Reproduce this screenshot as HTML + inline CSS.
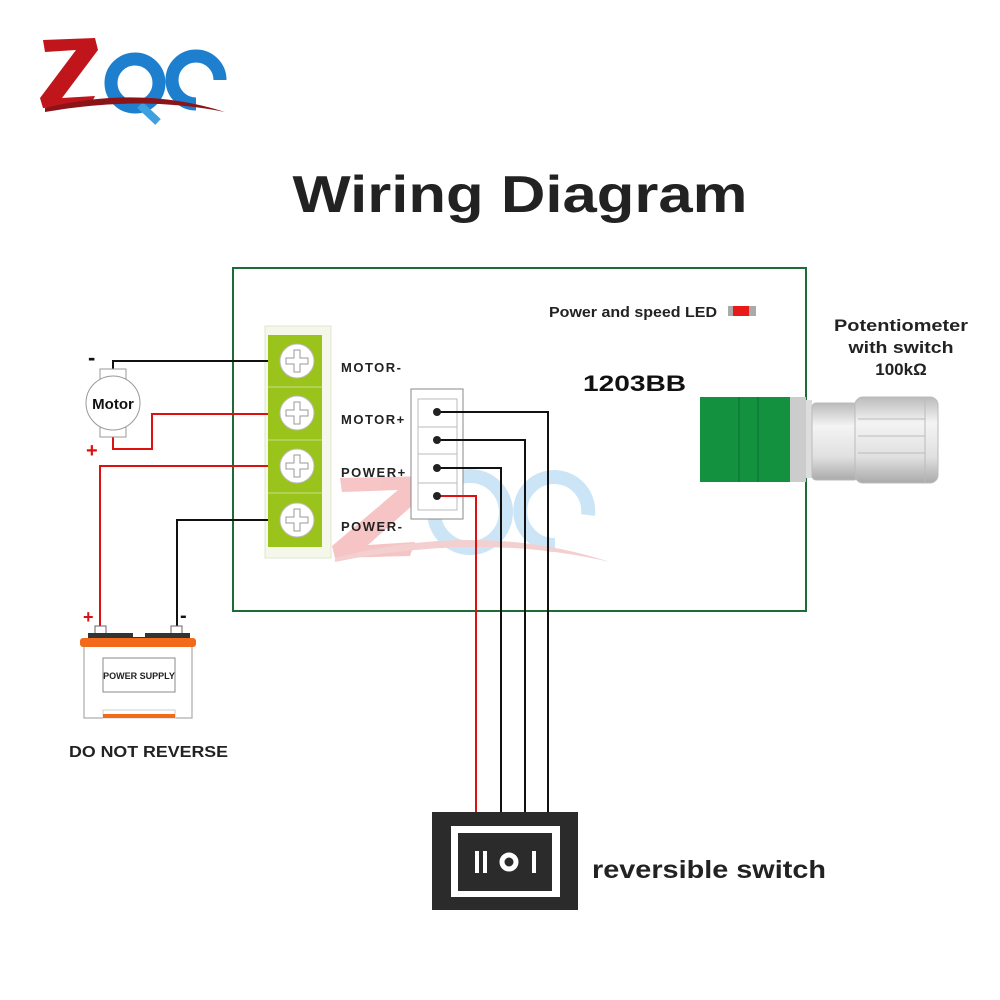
<!DOCTYPE html>
<html><head><meta charset="utf-8"><style>html,body{margin:0;padding:0;background:#fff}svg{display:block}text{font-family:"Liberation Sans","DejaVu Sans",sans-serif}</style></head>
<body>
<svg width="1000" height="1000" viewBox="0 0 1000 1000" xmlns="http://www.w3.org/2000/svg">
<rect width="1000" height="1000" fill="#fff"/>
<!-- Logo -->
<g>
 <path d="M43 40 L95 38 L98 50 L62 98 L95 96 L90 106 L43 108 L40 98 L76 50 L45 52 Z" fill="#c0161b"/>
 <circle cx="135" cy="83" r="24" fill="none" stroke="#1f7fcf" stroke-width="13"/>
 <path d="M140 105 L158 122" stroke="#3fa0e0" stroke-width="8"/>
 <path d="M220 80 A24 24 0 1 0 196 104" fill="none" stroke="#1f7fcf" stroke-width="13"/>
 <path d="M45 108 Q140 85 225 112 Q140 95 45 112 Z" fill="#8a1418"/>
</g>
<!-- Title -->
<text x="520" y="212" font-size="52" font-weight="bold" fill="#222" text-anchor="middle" textLength="455" lengthAdjust="spacingAndGlyphs">Wiring Diagram</text>
<!-- watermark -->
<g opacity="0.35">
 <path d="M340 478 L430 476 L432 488 L368 545 L415 542 L410 556 L335 558 L332 546 L398 490 L342 492 Z" fill="#e85a5a"/>
 <circle cx="470" cy="512" r="36" fill="none" stroke="#6fb6e8" stroke-width="14"/>
 <path d="M588 515 A34 34 0 1 0 555 545" fill="none" stroke="#6fb6e8" stroke-width="14"/>
 <path d="M335 558 Q480 520 610 562 Q480 532 335 562 Z" fill="#d77"/>
</g>
<!-- Main box -->
<rect x="233" y="268" width="573" height="343" fill="none" stroke="#1f6b35" stroke-width="2"/>
<text x="549" y="317" font-size="15" font-weight="bold" fill="#222" textLength="168" lengthAdjust="spacingAndGlyphs">Power and speed LED</text>
<rect x="728" y="306" width="28" height="10" fill="#aaa"/><rect x="733" y="306" width="16" height="10" fill="#e81919"/>
<text x="583" y="391" font-size="22" font-weight="bold" fill="#111" textLength="103" lengthAdjust="spacingAndGlyphs">1203BB</text>
<!-- terminal block -->
<rect x="265" y="326" width="66" height="232" fill="#f4f7ea" stroke="#dfe6cc"/>
<rect x="268" y="335" width="54" height="212" fill="#9ac31c"/>
<g stroke="#c9dd88" stroke-width="1"><line x1="268" y1="387" x2="322" y2="387"/><line x1="268" y1="440" x2="322" y2="440"/><line x1="268" y1="493" x2="322" y2="493"/></g>
<g fill="#fff" stroke="#bbb">
 <circle cx="297" cy="361" r="17"/><circle cx="297" cy="413" r="17"/><circle cx="297" cy="466" r="17"/><circle cx="297" cy="520" r="17"/>
</g>
<g fill="none" stroke="#999" stroke-width="1">
 <path d="M294 350h6v8h8v6h-8v8h-6v-8h-8v-6h8z"/>
 <path d="M294 402h6v8h8v6h-8v8h-6v-8h-8v-6h8z"/>
 <path d="M294 455h6v8h8v6h-8v8h-6v-8h-8v-6h8z"/>
 <path d="M294 509h6v8h8v6h-8v8h-6v-8h-8v-6h8z"/>
</g>
<g font-size="13" font-weight="bold" fill="#222" letter-spacing="1.5">
 <text x="341" y="372">MOTOR-</text><text x="341" y="424">MOTOR+</text><text x="341" y="477">POWER+</text><text x="341" y="531">POWER-</text>
</g>
<!-- connector -->
<rect x="411" y="389" width="52" height="130" fill="#fff" stroke="#888"/>
<rect x="418" y="399" width="39" height="111" fill="none" stroke="#bbb"/>
<g stroke="#bbb"><line x1="418" y1="427" x2="457" y2="427"/><line x1="418" y1="454" x2="457" y2="454"/><line x1="418" y1="483" x2="457" y2="483"/></g>
<!-- wires to switch -->
<g fill="none" stroke-width="2">
 <path d="M437 412 H548 V812" stroke="#111"/>
 <path d="M437 440 H525 V812" stroke="#111"/>
 <path d="M437 468 H501 V812" stroke="#111"/>
 <path d="M437 496 H476 V812" stroke="#d11"/>
</g>
<g fill="#222"><circle cx="437" cy="412" r="4"/><circle cx="437" cy="440" r="4"/><circle cx="437" cy="468" r="4"/><circle cx="437" cy="496" r="4"/></g>
<!-- motor wires -->
<g fill="none" stroke-width="2">
 <path d="M113 372 V361 H268" stroke="#111"/>
 <path d="M113 434 V449 H152 V414 H268" stroke="#d11"/>
 <path d="M268 466 H100 V628" stroke="#d11"/>
 <path d="M268 520 H177 V628" stroke="#111"/>
</g>
<!-- motor -->
<rect x="100" y="369" width="26" height="12" fill="#fff" stroke="#999"/>
<rect x="100" y="425" width="26" height="12" fill="#fff" stroke="#999"/>
<circle cx="113" cy="403" r="27" fill="#fff" stroke="#999"/>
<text x="113" y="409" font-size="15" font-weight="bold" fill="#111" text-anchor="middle">Motor</text>
<text x="88" y="365" font-size="22" font-weight="bold" fill="#111">-</text>
<text x="86" y="457" font-size="20" font-weight="bold" fill="#d11">+</text>
<!-- battery -->
<text x="83" y="623" font-size="18" font-weight="bold" fill="#d11">+</text>
<text x="180" y="622" font-size="20" font-weight="bold" fill="#111">-</text>
<rect x="95" y="626" width="11" height="8" fill="#fff" stroke="#666"/>
<rect x="171" y="626" width="11" height="8" fill="#fff" stroke="#666"/>
<path d="M88 633 H133 V637 H145 V633 H190 V640 H88 Z" fill="#333"/>
<rect x="84" y="646" width="108" height="72" fill="#fff" stroke="#999"/>
<rect x="80" y="638" width="116" height="9" rx="3" fill="#f26a1a"/>
<rect x="103" y="658" width="72" height="34" fill="#fff" stroke="#888"/>
<text x="139" y="679" font-size="9" font-weight="bold" fill="#222" text-anchor="middle">POWER SUPPLY</text>
<rect x="103" y="710" width="72" height="8" fill="#fff" stroke="#ccc"/>
<rect x="103" y="714" width="72" height="4" fill="#f26a1a"/>
<text x="69" y="757" font-size="16" font-weight="bold" fill="#222" textLength="159" lengthAdjust="spacingAndGlyphs">DO NOT REVERSE</text>
<!-- potentiometer -->
<g font-size="17" font-weight="bold" fill="#222" text-anchor="middle">
 <text x="901" y="331" textLength="134" lengthAdjust="spacingAndGlyphs">Potentiometer</text><text x="901" y="353" textLength="105" lengthAdjust="spacingAndGlyphs">with switch</text><text x="901" y="375">100kΩ</text>
</g>
<rect x="700" y="397" width="90" height="85" fill="#13913f"/>
<g stroke="#0c6a2c"><line x1="739" y1="397" x2="739" y2="482"/><line x1="758" y1="397" x2="758" y2="482"/></g>
<rect x="790" y="397" width="16" height="85" fill="#ccc"/>
<rect x="806" y="400" width="6" height="78" fill="#ddd"/>
<defs><linearGradient id="cy" x1="0" y1="0" x2="0" y2="1"><stop offset="0" stop-color="#bbb"/><stop offset="0.3" stop-color="#f4f4f4"/><stop offset="0.7" stop-color="#e0e0e0"/><stop offset="1" stop-color="#aaa"/></linearGradient></defs>
<rect x="812" y="403" width="46" height="77" rx="4" fill="url(#cy)" stroke="#bbb"/>
<rect x="855" y="397" width="83" height="86" rx="8" fill="url(#cy)" stroke="#bbb"/>
<g stroke="#bbb"><line x1="858" y1="419" x2="925" y2="419"/><line x1="858" y1="436" x2="925" y2="436"/><line x1="858" y1="453" x2="925" y2="453"/><line x1="925" y1="398" x2="925" y2="482"/></g>
<!-- switch -->
<rect x="432" y="812" width="146" height="98" fill="#2b2b2b"/>
<rect x="451" y="826" width="109" height="71" fill="#fff"/>
<rect x="458" y="833" width="94" height="58" fill="#2b2b2b"/>
<rect x="475" y="851" width="4" height="22" fill="#fff"/><rect x="483" y="851" width="4" height="22" fill="#fff"/>
<circle cx="509" cy="862" r="7" fill="none" stroke="#fff" stroke-width="5"/>
<rect x="532" y="851" width="4" height="22" fill="#fff"/>
<text x="592" y="878" font-size="25" font-weight="bold" fill="#222" textLength="234" lengthAdjust="spacingAndGlyphs">reversible switch</text>
</svg>
</body></html>
